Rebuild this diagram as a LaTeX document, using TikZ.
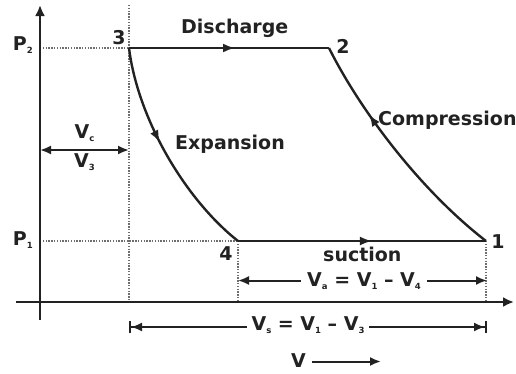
\documentclass[tikz,border=0pt]{standalone}
\usepackage{fontspec}
\setmainfont{DejaVu Sans}
\usetikzlibrary{arrows.meta,decorations.markings}
\newcommand{\sbs}[1]{\raisebox{-3pt}{\fontsize{8.5}{8.5}\selectfont #1}}
\definecolor{ink}{HTML}{222222}
\definecolor{dotc}{HTML}{6E6E6E}
\begin{document}
\begin{tikzpicture}[x=1pt,y=-1pt,
  lbl/.style={font=\bfseries\fontsize{19}{21}\selectfont, text=ink, inner sep=0pt},
  main/.style={draw=ink, line width=2.4pt},
  axis/.style={draw=ink, line width=2.6pt, -{Latex[length=11pt,width=10pt]}},
  guide/.style={draw=dotc, line width=1.2pt, dash pattern=on 1.4pt off 1.4pt},
  midarrow/.style={postaction={decorate}, decoration={markings, mark=at position #1 with {\arrow{Latex[length=12pt,width=9pt]}}}},
  dim/.style={draw=ink, line width=2pt},
]
\useasboundingbox (0,0) rectangle (516,373);
% key points
\coordinate (ytop) at (40,5);
\coordinate (ybot) at (40,320);
\coordinate (xl) at (16,302);
\coordinate (xr) at (514,302);
\coordinate (p1) at (486,241);
\coordinate (p2) at (329,48);
\coordinate (p3) at (129,48);
\coordinate (p4) at (238,241);
\coordinate (g2) at (40,48);
\coordinate (g1) at (40,241);
\coordinate (v3t) at (129,5);
\coordinate (v3b) at (129,302);
\coordinate (v4b) at (238,302);
\coordinate (v1b) at (486,302);
% guide lines
\draw[guide] (g2) -- (p3);
\draw[guide] (v3t) -- (v3b);
\draw[guide] (g1) -- (p4);
\draw[guide] (p4) -- (v4b);
\draw[guide] (p1) -- (v1b);
% axes
\draw[axis] (ybot) -- (ytop);
\draw[axis] (xl) -- (xr);
% cycle
\draw[main, midarrow=0.53] (p3) -- (p2);
\draw[main, midarrow=0.44] (p3) .. controls (138,120) and (186,200) .. (p4);
\draw[main, midarrow=0.54] (p4) -- (p1);
\draw[main, midarrow=0.69] (p1) .. controls (420,190) and (360,110) .. (p2);
% point labels
\node[lbl] (n3) at (119,38) {3};
\node[lbl] (n2) at (343,46) {2};
\node[lbl] (n1) at (498,242) {1};
\node[lbl] (n4) at (226,254) {4};
\node[lbl, anchor=base east] (P2) at (33,50) {P\sbs{2}};
\node[lbl, anchor=base east] (P1) at (33,245) {P\sbs{1}};
% process labels
\node[lbl, anchor=base west] (dis) at (181,33.5) {Discharge};
\node[lbl, anchor=base west] (exp) at (175,149) {Expansion};
\node[lbl, anchor=base west] (com) at (378,125) {Compression};
\node[lbl, anchor=base west] (suc) at (323,261) {suction};
% Vc dimension
\coordinate (vcl) at (40,150);
\coordinate (vcr) at (129,150);
\draw[dim, {Latex[length=11pt,width=9pt]}-{Latex[length=11pt,width=9pt]}] (vcl) -- (vcr);
\node[lbl, anchor=base] (vc) at (84.5,138) {V\sbs{c}};
\node[lbl, anchor=base] (v3) at (84.5,167) {V\sbs{3}};
% Va dimension
\coordinate (val) at (238,280.5);
\coordinate (var) at (487,280.5);
\draw[dim, {Latex[length=11pt,width=9pt]}-{Latex[length=11pt,width=9pt]}] (val) -- (var);
\node[lbl, anchor=base, fill=white, inner xsep=6pt, inner ysep=2pt] (va) at (364,286) {V\sbs{a} = V\sbs{1} – V\sbs{4}};
% Vs dimension
\coordinate (vsl) at (129,327);
\coordinate (vsr) at (487,327);
\draw[dim, {Bar[width=12pt,line width=2pt]Latex[length=11pt,width=9pt]}-{Latex[length=11pt,width=9pt]Bar[width=12pt,line width=2pt]}] (vsl) -- (vsr);
\node[lbl, anchor=base, fill=white, inner xsep=5pt, inner ysep=2pt] (vs) at (308,330.5) {V\sbs{s} = V\sbs{1} – V\sbs{3}};
% V axis label
\node[lbl, anchor=base] (vlab) at (298.5,367) {V};
\coordinate (varr) at (381,361.5);
\draw[dim, -{Latex[length=11pt,width=9pt]}] (vlab.east |- varr) ++(6,0) -- (varr);
\end{tikzpicture}
\end{document}
